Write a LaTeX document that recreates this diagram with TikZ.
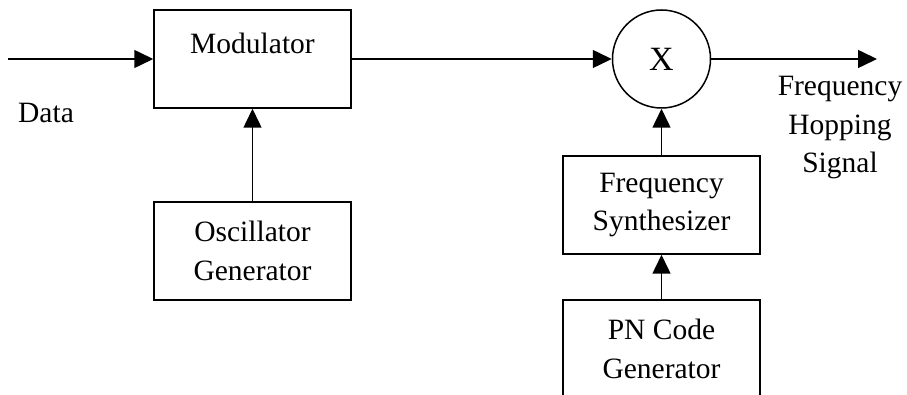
\documentclass[tikz,border=0pt]{standalone}
\usepackage{fontspec}
\setmainfont{Liberation Serif}
\usetikzlibrary{arrows.meta}
\begin{document}
\begin{tikzpicture}[x=1pt,y=-1pt,
  line width=1.5pt,
  >={Triangle[length=19pt,width=18pt]},
  txt/.style={font=\fontsize{29.5}{38.5}\selectfont, align=center, inner sep=0pt},
  block/.style={draw, line width=1.5pt, minimum width=197pt, minimum height=98pt, inner sep=0pt, font=\fontsize{29.5}{38.5}\selectfont, align=center},
  mixer/.style={draw, circle, line width=1.5pt, minimum size=98pt, inner sep=0pt, font=\fontsize{34}{38}\selectfont}]
\clip (0,0) rectangle (907,395);
\fill[white] (0,0) rectangle (907,395);

% blocks
\node[block] (mod) at (252.5,59) {};
\node[txt] (modlbl) at (252.5,43) {Modulator};
\node[block] (osc) at (252.5,251) {Oscillator\\Generator};
\node[mixer] (mix) at (661.5,59) {X};
\node[block] (syn) at (661.5,205) {Frequency\\Synthesizer};
\node[block] (pn) at (661.5,349) {PN Code\\Generator};

% labels
\node[txt] (data) at (46,113) {Data};
\node[txt] (fhs) at (840,128) {Frequency\\Hopping\\Signal};

% free ends
\coordinate (in) at (8,59);
\coordinate (out) at (877,59);

% connectors
\draw[->] (in) -- (mod.west);
\draw[->] (osc.north) -- (mod.south);
\draw[->] (mod.east) -- (mix.west);
\draw[->] (mix.east) -- (out);
\draw[->] (syn.north) -- (mix.south);
\draw[->] (pn.north) -- (syn.south);
\end{tikzpicture}
\end{document}
